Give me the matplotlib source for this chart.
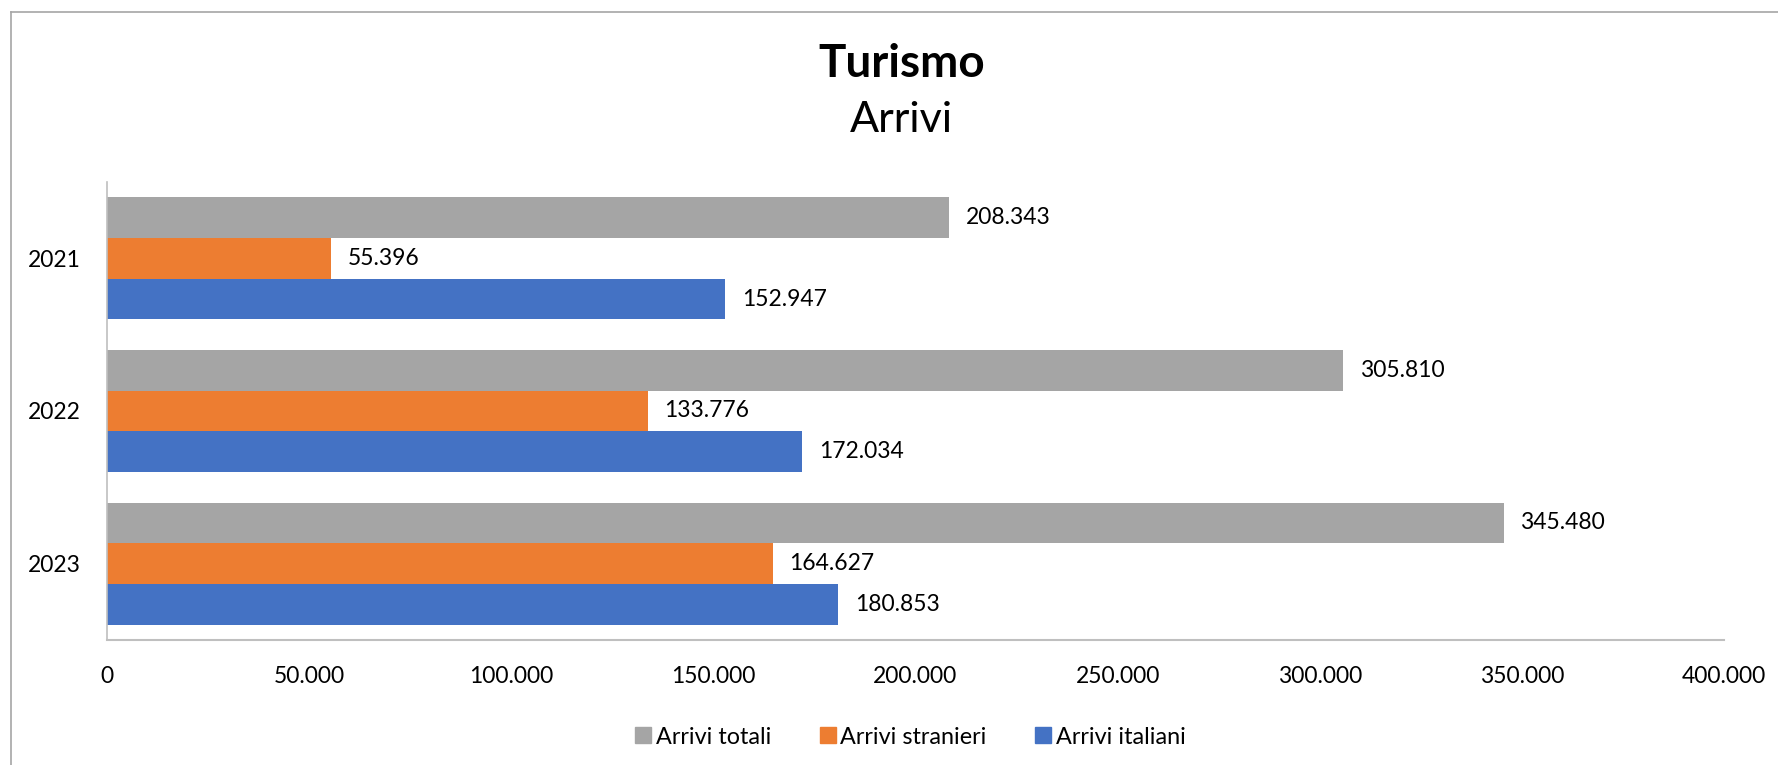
import numpy as np
import matplotlib.pyplot as plt
from matplotlib.ticker import FuncFormatter
from matplotlib.lines import Line2D

plt.rcParams['font.family'] = ['Lato', 'DejaVu Sans']

anni = ['2021', '2022', '2023']
arrivi_totali = [208343, 305810, 345480]
arrivi_stranieri = [55396, 133776, 164627]
arrivi_italiani = [152947, 172034, 180853]

serie = [
    ('Arrivi totali', arrivi_totali, '#A5A5A5'),
    ('Arrivi stranieri', arrivi_stranieri, '#ED7D31'),
    ('Arrivi italiani', arrivi_italiani, '#4472C4'),
]

def fmt_it(v):
    return f'{int(round(v)):,}'.replace(',', '.')

fig = plt.figure(figsize=(17.78, 7.65), dpi=100)
ax = fig.add_axes([0.0602, 0.1634, 0.9094, 0.5987])

y = np.arange(len(anni))
h = 0.8 / 3
for i, (nome, vals, col) in enumerate(serie):
    pos = y - 0.4 + h / 2 + i * h
    bars = ax.barh(pos, vals, height=h, color=col, label=nome)
    for b, v in zip(bars, vals):
        ax.annotate(fmt_it(v), (b.get_width(), b.get_y() + b.get_height() / 2),
                    xytext=(12, 0), textcoords='offset points',
                    va='center', ha='left', fontsize=16.5, color='black')

ax.set_xlim(0, 400000)
ax.set_ylim(2.5, -0.5)
ax.set_yticks(y)
ax.set_yticklabels(anni)
ax.set_xticks(np.arange(0, 400001, 50000))
ax.xaxis.set_major_formatter(FuncFormatter(lambda v, p: fmt_it(v)))
ax.tick_params(axis='both', length=0, labelsize=16.5)
ax.tick_params(axis='x', pad=19)
ax.tick_params(axis='y', pad=19)

for s in ['top', 'right']:
    ax.spines[s].set_visible(False)
ax.spines['left'].set_color('#BFBFBF')
ax.spines['left'].set_linewidth(1.2)
ax.spines['bottom'].set_color('#BFBFBF')
ax.spines['bottom'].set_linewidth(1.5)

fig.text(0.507, 1 - 77 / 765, 'Turismo', ha='center', va='baseline',
         fontsize=33, fontweight='bold')
fig.text(0.507, 1 - 132 / 765, 'Arrivi', ha='center', va='baseline',
         fontsize=31)

handles = [Line2D([], [], marker='s', linestyle='none', markersize=11,
                  markerfacecolor=c, markeredgecolor=c) for _, _, c in serie]
fig.legend(handles, [n for n, _, _ in serie], loc='center',
           bbox_to_anchor=(0.511, 1 - 737 / 765), ncol=3, frameon=False,
           fontsize=16.8, handletextpad=0.05, columnspacing=1.9,
           handlelength=1.0)

# cornice del grafico
fig.add_artist(Line2D([11 / 1778, 11 / 1778], [0, 1 - 12 / 765],
                      transform=fig.transFigure, color='#A6A6A6', linewidth=1.2))
fig.add_artist(Line2D([11 / 1778, 1], [1 - 12 / 765, 1 - 12 / 765],
                      transform=fig.transFigure, color='#A6A6A6', linewidth=1.2))

fig.savefig('out.png', dpi=100)
